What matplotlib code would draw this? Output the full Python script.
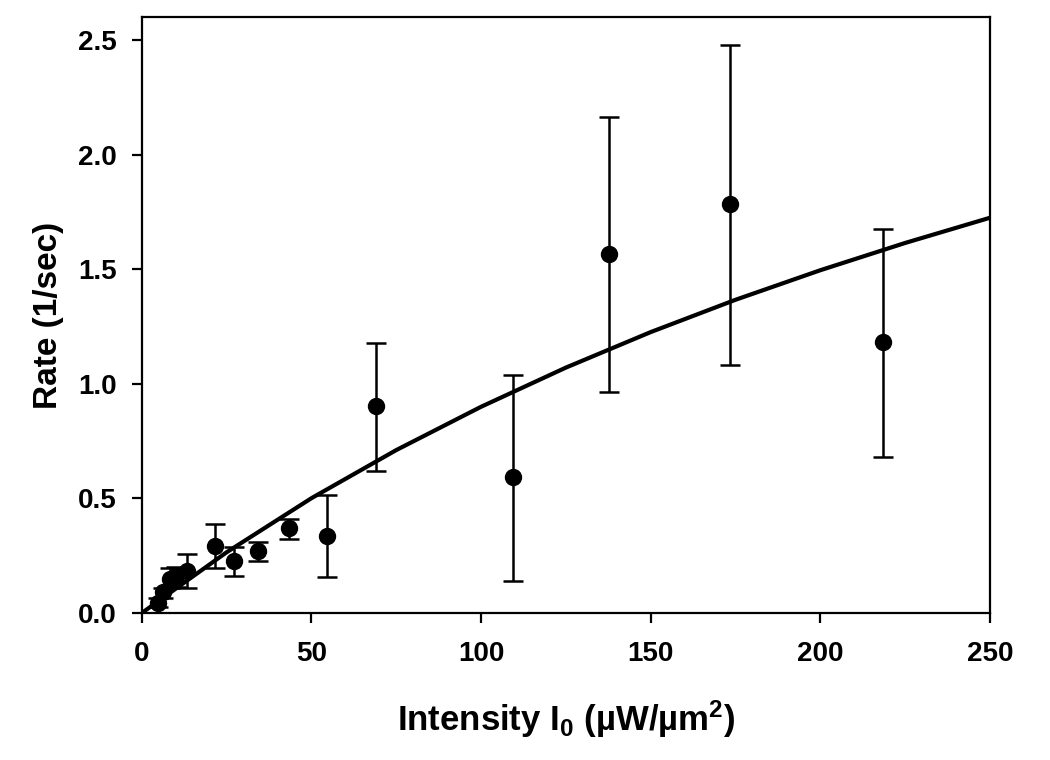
import matplotlib
matplotlib.use("Agg")
import matplotlib.pyplot as plt
import numpy as np

intensity = [4.8, 6.3, 8.3, 10.0, 13.4, 21.5, 27.2, 34.3, 43.3, 54.6, 68.9, 109.3, 137.8, 173.3, 218.5]
rate      = [0.045, 0.090, 0.150, 0.160, 0.185, 0.294, 0.227, 0.271, 0.370, 0.338, 0.902, 0.592, 1.565, 1.783, 1.181]
err_low   = [0.020, 0.025, 0.040, 0.045, 0.078, 0.099, 0.065, 0.044, 0.047, 0.182, 0.284, 0.453, 0.602, 0.702, 0.501]
err_high  = [0.020, 0.020, 0.045, 0.040, 0.072, 0.095, 0.063, 0.041, 0.040, 0.178, 0.278, 0.448, 0.600, 0.697, 0.496]

# Fit curve, points
curve_x = [0, 25, 50, 75, 100, 125, 150, 175, 200, 225, 250]
curve_y = [0.0, 0.265, 0.501, 0.711, 0.900, 1.071, 1.226, 1.367, 1.496, 1.615, 1.725]

x_ticks = [0, 50, 100, 150, 200, 250]
y_ticks = [0.0, 0.5, 1.0, 1.5, 2.0, 2.5]

plt.rcParams['font.family'] = ['Liberation Sans', 'DejaVu Sans']
plt.rcParams['font.weight'] = 'bold'
plt.rcParams['mathtext.fontset'] = 'custom'
plt.rcParams['mathtext.rm'] = 'Liberation Sans:bold'
plt.rcParams['mathtext.bf'] = 'Liberation Sans:bold'
plt.rcParams['mathtext.it'] = 'Liberation Sans:bold'

fig = plt.figure(figsize=(10.5, 7.6), dpi=100)
ax = fig.add_axes([0.135, 0.1934, 0.808, 0.784])

ax.plot(curve_x, curve_y, color='black', lw=3.0, solid_capstyle='butt', solid_joinstyle='round', zorder=2)
ax.errorbar(intensity, rate, yerr=[err_low, err_high], fmt='o', color='black',
            ms=11.5, elinewidth=1.8, capsize=7, capthick=1.8, zorder=3)

ax.set_xlim(0, 250)
ax.set_ylim(0, 2.6)
ax.set_xticks(x_ticks)
ax.set_xticklabels([str(v) for v in x_ticks])
ax.set_yticks(y_ticks)
ax.set_yticklabels([f"{v:.1f}" for v in y_ticks])

for s in ax.spines.values():
    s.set_linewidth(1.6)
ax.tick_params(direction='out', length=7, width=1.6, labelsize=20)
ax.tick_params(axis='x', pad=13)
ax.tick_params(axis='y', pad=11)
for lab in ax.get_xticklabels() + ax.get_yticklabels():
    lab.set_fontweight('bold')

ax.set_xlabel(r"Intensity I$_{\mathrm{0}}$ (µW/µm$^{\mathrm{2}}$)", fontsize=25, fontweight='bold', labelpad=23)
ax.set_ylabel("Rate (1/sec)", fontsize=24, fontweight='bold', labelpad=10)

fig.savefig("out.png", dpi=100)
